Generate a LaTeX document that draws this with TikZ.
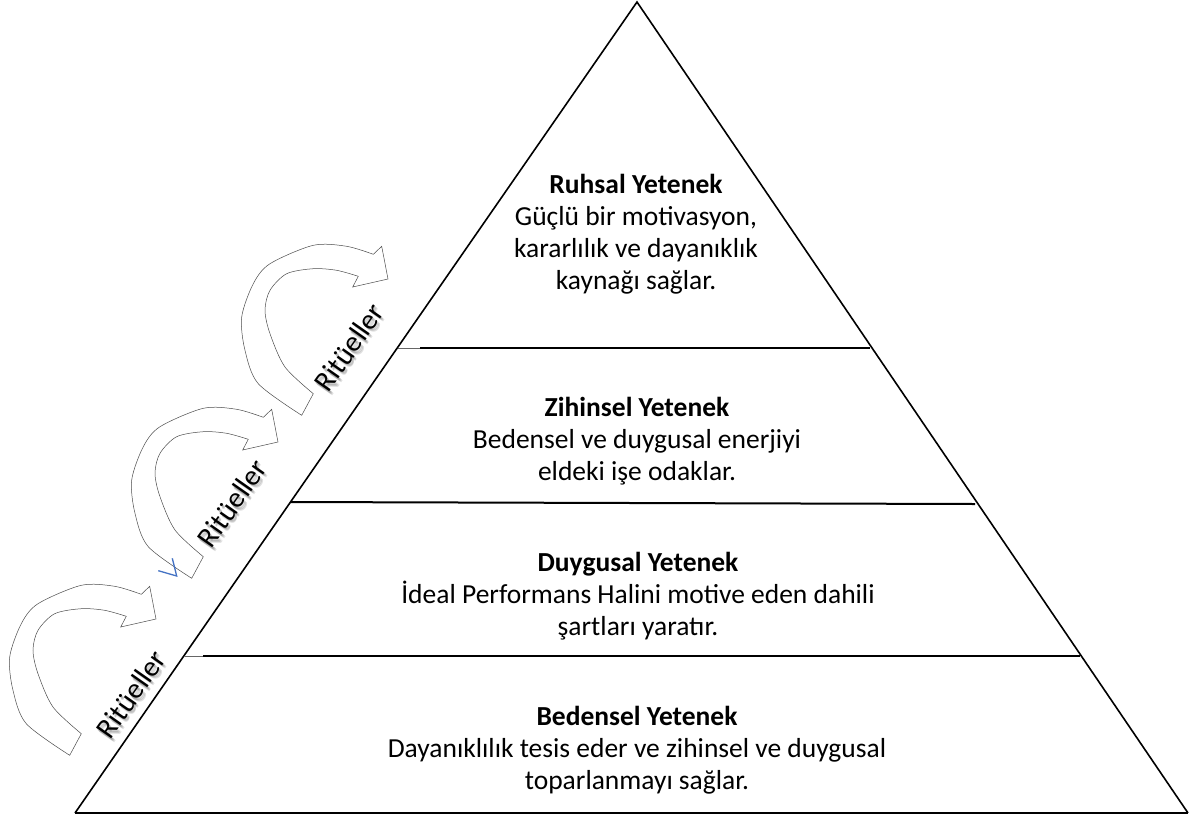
\documentclass[tikz,border=0pt]{standalone}
\usepackage{fontspec}
\setmainfont{Carlito}
\definecolor{wordblue}{HTML}{4472C4}
\begin{document}
\begin{tikzpicture}[x=1pt,y=-1pt,
  edge/.style={line width=1.6pt, line join=miter},
  band/.style={line width=2.6pt},
  midband/.style={line width=2pt},
  thinband/.style={line width=0.8pt, black!60},
  block/.style={align=center, font=\fontsize{27.5}{32}\selectfont, inner sep=0pt, anchor=base},
  rit/.style={font=\fontsize{29}{32}\selectfont, rotate=55, inner sep=0pt},
  ritshadow/.style={rit, text=black, opacity=0.12},
  bluemark/.style={wordblue, line width=1.3pt},
  pics/curvedarrow/.style={code={
    \draw[black!70, line width=0.5pt, fill=white, line join=miter]
      plot[smooth] coordinates {(-86.3,136.3) (-129.7,104.7) (-143,71.3) (-146.3,38) (-134.7,4.7) (-118,-15.3) (-74.7,-33.7) (-41.3,-32.7) (-14.7,-24.7)}
      -- (-6.3,-32.7) -- (0,0) -- (-35.3,8) -- (-29.7,-2.7)
      -- plot[smooth] coordinates {(-29.7,-2.7) (-51.3,-8.7) (-74.7,-10.3) (-101.3,-5.3) (-118,11.3) (-123,31.3) (-118,54.7) (-103,88) (-74.7,114.7)}
      -- cycle;
  }}
]
\path[fill=white] (0,0) rectangle (1192,820);
\useasboundingbox (0,0) rectangle (1192,820);

% curved arrows
\pic (arrlow) at (156,619) {curvedarrow};
\pic (arrmid) at (278,442) {curvedarrow};
\pic (arrtop) at (388,279) {curvedarrow};

% blue mark
\coordinate (bm1) at (158.3,570.7);
\coordinate (bm2) at (176.7,576);
\coordinate (bm3) at (172.3,558.3);
\draw[bluemark] (bm1) -- (bm2) -- (bm3);

% triangle
\coordinate (A) at (637,2);
\coordinate (B) at (75,813);
\coordinate (C) at (1188,813);
\draw[edge] (B) -- (A) -- (C);
\draw[band] (B) -- (C);

% level lines
\coordinate (L1a) at (398,348);
\coordinate (L1m) at (420,348);
\coordinate (L1b) at (870,348);
\draw[thinband] (L1a) -- (L1m);
\draw[band] (L1m) -- (L1b);
\coordinate (L2a) at (290,502);
\coordinate (L2b) at (975,504);
\draw[midband] (L2a) -- (L2b);
\coordinate (L3a) at (185,656);
\coordinate (L3m) at (203,656);
\coordinate (L3b) at (1080,656);
\draw[thinband] (L3a) -- (L3m);
\draw[band] (L3m) -- (L3b);

% texts (anchor = baseline of the last line)
\node[block] (ruh) at (636,289) {\textbf{Ruhsal Yetenek}\\Güçlü bir motivasyon,\\kararlılık ve dayanıklık\\kaynağı sağlar.};
\node[block] (zih) at (637,480) {\textbf{Zihinsel Yetenek}\\Bedensel ve duygusal enerjiyi\\eldeki işe odaklar.};
\node[block] (duy) at (638,635) {\textbf{Duygusal Yetenek}\\İdeal Performans Halini motive eden dahili\\şartları yaratır.};
\node[block] (bed) at (637,789) {\textbf{Bedensel Yetenek}\\Dayanıklılık tesis eder ve zihinsel ve duygusal\\toparlanmayı sağlar.};

% Ritüeller labels with soft shadow
\foreach \dx/\dy in {1/1.5, 2/2.5, 2.5/3.5} {
  \node[ritshadow] at (131+\dx,694+\dy) {Ritüeller};
  \node[ritshadow] at (232+\dx,503+\dy) {Ritüeller};
  \node[ritshadow] at (349+\dx,347+\dy) {Ritüeller};
}
\node[rit] (r1) at (131,694) {Ritüeller};
\node[rit] (r2) at (232,503) {Ritüeller};
\node[rit] (r3) at (349,347) {Ritüeller};
\end{tikzpicture}
\end{document}
